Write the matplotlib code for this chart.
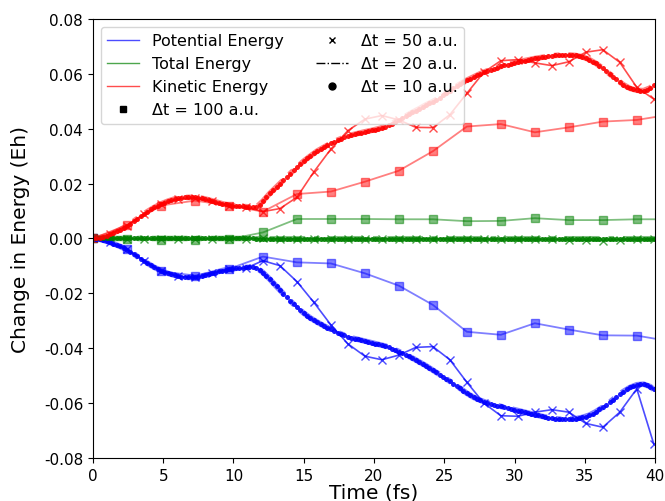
import numpy as np
import matplotlib
matplotlib.use("Agg")
import matplotlib.pyplot as plt
from matplotlib.lines import Line2D

# one atomic unit of time in femtoseconds
AU_FS = 0.02418884

# Energy changes in milli-Hartree, one value per time step
# ---- dt = 100 a.u. ----
kin_dt100 = [0.0, 4.9, 12.0, 13.8, 12.0, 9.8, 16.2, 17.1, 20.7, 24.7, 31.8, 40.8,
             41.7, 38.7, 40.5, 42.6, 43.2, 45.2]
pot_dt100 = [0.0, -4.0, -12.0, -13.5, -11.1, -6.6, -8.7, -9.1, -12.7, -17.2, -24.2,
             -34.0, -35.1, -30.9, -33.2, -35.3, -35.4, -37.5]
tot_dt100 = [0.0, -0.1, -0.5, -0.5, -0.3, 2.2, 7.1, 7.1, 7.1, 7.0, 7.0, 6.3,
             6.4, 7.4, 6.7, 6.7, 7.0, 7.0]

# ---- dt = 50 a.u. ----
kin_dt50 = [0.0, 1.5, 4.7, 9.0, 12.4, 14.4, 14.7, 13.6, 12.0, 11.4, 9.8, 10.9,
            15.0, 24.3, 32.6, 39.3, 43.5, 44.8, 43.2, 40.5, 40.4, 45.1, 52.9,
            60.6, 64.8, 65.2, 64.0, 63.0, 64.4, 67.9, 68.8, 64.2, 55.1, 50.8]
pot_dt50 = [0.0, -1.2, -4.0, -8.1, -11.7, -13.8, -14.2, -12.7, -11.3, -10.8, -8.1,
            -9.9, -15.7, -23.3, -31.5, -38.4, -42.9, -44.2, -42.5, -39.7, -39.4,
            -44.2, -52.4, -60.0, -64.6, -64.8, -63.3, -62.4, -63.3, -67.4, -68.8,
            -63.3, -54.8, -74.9]
tot_dt50 = [0.0, 0.0, -0.1, -0.1, -0.1, -0.1, -0.1, -0.1, -0.1, -0.1, 0.0, -0.1,
            -0.1, -0.1, -0.1, -0.1, -0.1, -0.1, -0.1, -0.1, -0.1, -0.1, -0.1,
            -0.2, -0.2, -0.2, -0.3, -0.3, -0.4, -0.6, -0.8, -0.4, -0.3, -0.3]

# ---- dt = 20 a.u. ----
kin_dt20 = [0.0, 0.3, 1.0, 2.0, 3.2, 4.6, 6.3, 8.1, 9.8, 11.3,
            12.6, 13.6, 14.4, 14.8, 15.0, 15.0, 14.7, 14.1, 13.4, 12.7,
            12.1, 11.8, 11.7, 11.5, 11.3, 13.6, 16.4, 18.8, 21.2, 23.6,
            26.0, 28.2, 30.1, 31.9, 33.3, 34.7, 35.9, 36.9, 37.7, 38.3,
            38.9, 39.4, 40.0, 40.8, 41.9, 43.3, 44.6, 46.0, 47.3, 48.7,
            49.9, 51.3, 53.0, 54.7, 56.3, 57.7, 58.9, 60.1, 61.1, 61.9,
            62.7, 63.4, 64.0, 64.6, 65.1, 65.6, 66.0, 66.4, 66.7, 66.9,
            66.9, 66.7, 66.2, 65.2, 63.8, 62.0, 60.0, 58.0, 56.1, 54.7,
            54.0, 53.9, 54.9, 57.3]
pot_dt20 = [0.0, -0.3, -1.0, -1.9, -2.9, -4.1, -5.6, -7.4, -9.0, -10.5,
            -11.7, -12.7, -13.4, -13.9, -14.2, -14.1, -13.7, -13.1, -12.4, -11.7,
            -11.2, -10.9, -10.6, -10.5, -10.6, -12.4, -14.8, -17.5, -20.1, -22.7,
            -25.1, -27.2, -29.0, -30.5, -31.9, -33.1, -34.3, -35.3, -36.2, -36.8,
            -37.4, -38.0, -38.6, -39.2, -40.1, -41.2, -42.4, -43.6, -45.0, -46.4,
            -48.0, -49.6, -51.2, -52.9, -54.6, -56.4, -57.9, -59.0, -59.9, -60.6,
            -61.2, -61.8, -62.4, -63.0, -63.6, -64.2, -64.8, -65.3, -65.7, -65.9,
            -65.9, -65.7, -65.2, -64.4, -63.1, -61.5, -59.7, -57.7, -55.8, -54.3,
            -53.3, -53.1, -54.0, -56.2]
tot_dt20 = [0.0, 0.0, 0.0, 0.0, 0.0, 0.0, 0.0, 0.0, 0.0, 0.0,
            0.0, 0.0, 0.0, 0.0, 0.0, 0.0, 0.0, 0.0, 0.0, 0.0,
            0.0, 0.0, 0.0, 0.0, -0.1, -0.1, -0.1, -0.1, -0.1, -0.1,
            -0.1, -0.1, -0.1, -0.1, -0.1, -0.1, -0.1, -0.1, -0.1, -0.1,
            -0.1, -0.1, -0.1, -0.1, -0.1, -0.1, -0.1, -0.1, -0.1, -0.1,
            -0.1, -0.1, -0.1, -0.1, -0.1, -0.1, -0.1, -0.1, -0.1, -0.1,
            -0.1, -0.1, -0.1, -0.1, -0.1, -0.1, -0.1, -0.1, -0.1, -0.1,
            -0.1, -0.1, -0.1, -0.1, -0.1, -0.1, -0.1, -0.1, -0.1, -0.1,
            -0.1, -0.1, -0.1, -0.1]

# ---- dt = 10 a.u. ----
kin_dt10 = [0.0, 0.1, 0.3, 0.6, 1.0, 1.5, 2.0, 2.6, 3.2, 3.9,
            4.6, 5.4, 6.3, 7.2, 8.1, 9.0, 9.8, 10.6, 11.3, 12.0,
            12.6, 13.1, 13.6, 14.0, 14.4, 14.6, 14.8, 15.0, 15.0, 15.1,
            15.0, 14.9, 14.7, 14.4, 14.1, 13.8, 13.4, 13.0, 12.7, 12.4,
            12.1, 11.9, 11.8, 11.7, 11.7, 11.6, 11.5, 11.4, 11.3, 12.3,
            13.6, 15.0, 16.4, 17.6, 18.8, 20.0, 21.2, 22.4, 23.6, 24.8,
            26.0, 27.1, 28.2, 29.2, 30.1, 31.0, 31.9, 32.6, 33.3, 34.0,
            34.7, 35.3, 35.9, 36.4, 36.9, 37.3, 37.7, 38.0, 38.3, 38.6,
            38.9, 39.2, 39.4, 39.7, 40.0, 40.4, 40.8, 41.3, 41.9, 42.6,
            43.3, 44.0, 44.6, 45.3, 46.0, 46.6, 47.3, 48.0, 48.7, 49.3,
            49.9, 50.6, 51.3, 52.2, 53.0, 53.8, 54.7, 55.5, 56.3, 57.0,
            57.7, 58.3, 58.9, 59.5, 60.1, 60.6, 61.1, 61.5, 61.9, 62.3,
            62.7, 63.1, 63.4, 63.7, 64.0, 64.3, 64.6, 64.8, 65.1, 65.3,
            65.6, 65.8, 66.0, 66.2, 66.4, 66.5, 66.7, 66.8, 66.9, 66.9,
            66.9, 66.9, 66.7, 66.5, 66.2, 65.8, 65.2, 64.5, 63.8, 62.9,
            62.0, 61.0, 60.0, 59.0, 58.0, 57.0, 56.1, 55.3, 54.7, 54.3,
            54.0, 53.8, 53.9, 54.2, 54.9, 56.0, 57.3]
pot_dt10 = [0.0, -0.1, -0.3, -0.6, -1.0, -1.4, -1.9, -2.4, -2.9, -3.5,
            -4.1, -4.8, -5.6, -6.5, -7.4, -8.2, -9.0, -9.8, -10.5, -11.1,
            -11.7, -12.2, -12.7, -13.1, -13.4, -13.7, -13.9, -14.1, -14.2, -14.2,
            -14.1, -14.0, -13.7, -13.4, -13.1, -12.7, -12.4, -12.0, -11.7, -11.4,
            -11.2, -11.0, -10.9, -10.7, -10.6, -10.5, -10.5, -10.5, -10.6, -11.4,
            -12.4, -13.6, -14.8, -16.1, -17.5, -18.8, -20.1, -21.4, -22.7, -23.9,
            -25.1, -26.2, -27.2, -28.1, -29.0, -29.8, -30.5, -31.2, -31.9, -32.5,
            -33.1, -33.7, -34.3, -34.8, -35.3, -35.8, -36.2, -36.5, -36.8, -37.1,
            -37.4, -37.7, -38.0, -38.3, -38.6, -38.9, -39.2, -39.6, -40.1, -40.6,
            -41.2, -41.8, -42.4, -43.0, -43.6, -44.3, -45.0, -45.7, -46.4, -47.2,
            -48.0, -48.8, -49.6, -50.4, -51.2, -52.0, -52.9, -53.7, -54.6, -55.5,
            -56.4, -57.2, -57.9, -58.5, -59.0, -59.5, -59.9, -60.3, -60.6, -60.9,
            -61.2, -61.5, -61.8, -62.1, -62.4, -62.7, -63.0, -63.3, -63.6, -63.9,
            -64.2, -64.5, -64.8, -65.0, -65.3, -65.5, -65.7, -65.8, -65.9, -65.9,
            -65.9, -65.9, -65.7, -65.5, -65.2, -64.9, -64.4, -63.8, -63.1, -62.3,
            -61.5, -60.6, -59.7, -58.7, -57.7, -56.7, -55.8, -55.0, -54.3, -53.7,
            -53.3, -53.1, -53.1, -53.4, -54.0, -55.0, -56.2]
tot_dt10 = [0.0, 0.0, 0.0, 0.0, 0.0, 0.0, 0.0, 0.0, 0.0, 0.0,
            0.0, 0.0, 0.0, 0.0, 0.0, 0.0, 0.0, 0.0, 0.0, 0.0,
            0.0, 0.0, 0.0, 0.0, 0.0, 0.0, 0.0, 0.0, 0.0, 0.0,
            0.0, 0.0, 0.0, 0.0, 0.0, 0.0, 0.0, 0.0, 0.0, 0.0,
            0.0, 0.0, 0.0, 0.0, 0.0, 0.0, 0.0, 0.0, -0.1, -0.1,
            -0.1, -0.1, -0.1, -0.1, -0.1, -0.1, -0.1, -0.1, -0.1, -0.1,
            -0.1, -0.1, -0.1, -0.1, -0.1, -0.1, -0.1, -0.1, -0.1, -0.1,
            -0.1, -0.1, -0.1, -0.1, -0.1, -0.1, -0.1, -0.1, -0.1, -0.1,
            -0.1, -0.1, -0.1, -0.1, -0.1, -0.1, -0.1, -0.1, -0.1, -0.1,
            -0.1, -0.1, -0.1, -0.1, -0.1, -0.1, -0.1, -0.1, -0.1, -0.1,
            -0.1, -0.1, -0.1, -0.1, -0.1, -0.1, -0.1, -0.1, -0.1, -0.1,
            -0.1, -0.1, -0.1, -0.1, -0.1, -0.1, -0.1, -0.1, -0.1, -0.1,
            -0.1, -0.1, -0.1, -0.1, -0.1, -0.1, -0.1, -0.1, -0.1, -0.1,
            -0.1, -0.1, -0.1, -0.1, -0.1, -0.1, -0.1, -0.1, -0.1, -0.1,
            -0.1, -0.1, -0.1, -0.1, -0.1, -0.1, -0.1, -0.1, -0.1, -0.1,
            -0.1, -0.1, -0.1, -0.1, -0.1, -0.1, -0.1, -0.1, -0.1, -0.1,
            -0.1, -0.1, -0.1, -0.1, -0.1, -0.1, -0.1]

legend_energy = ["Potential Energy", "Total Energy", "Kinetic Energy"]
energy_colors = ["blue", "green", "red"]
timesteps_au = [100, 50, 20, 10]

runs = {
    100: (pot_dt100, tot_dt100, kin_dt100),
    50: (pot_dt50, tot_dt50, kin_dt50),
    20: (pot_dt20, tot_dt20, kin_dt20),
    10: (pot_dt10, tot_dt10, kin_dt10),
}

styles = {
    100: dict(ls="-", lw=1.3, marker="s", ms=6, alpha=0.5),
    50: dict(ls="-", lw=1.2, marker="x", ms=5.5, mew=1.0, alpha=0.7),
    20: dict(ls="-.", lw=4.0, alpha=0.5),
    10: dict(ls="none", marker="o", ms=3.6, alpha=0.9, mew=0),
}

fig = plt.figure(figsize=(6.65, 5.02), dpi=100)
ax = fig.add_axes([0.1398, 0.0857, 0.8452, 0.8745])

for dt in timesteps_au:
    series = runs[dt]
    for values, color in zip(series, energy_colors):
        t = np.arange(len(values)) * dt * AU_FS
        ax.plot(t, np.asarray(values) / 1000.0, color=color, **styles[dt])

ax.set_xlim(0, 40)
ax.set_ylim(-0.08, 0.08)
ax.set_xticks(np.arange(0, 41, 5))
ax.set_yticks(np.arange(-0.08, 0.081, 0.02))
ax.yaxis.set_major_formatter(matplotlib.ticker.FormatStrFormatter("%.2f"))
ax.tick_params(labelsize=11)
ax.set_xlabel("Time (fs)", fontsize=14.5, labelpad=0)
ax.set_ylabel("Change in Energy (Eh)", fontsize=14.5, labelpad=10)

handles = [Line2D([], [], color=c, lw=1, alpha=0.7, label=lab)
           for c, lab in zip(energy_colors, legend_energy)]
handles += [
    Line2D([], [], color="k", ls="none", marker="s", ms=5, label="Δt = 100 a.u."),
    Line2D([], [], color="k", ls="none", marker="x", ms=5, label="Δt = 50 a.u."),
    Line2D([], [], color="k", ls="-.", lw=1, label="Δt = 20 a.u."),
    Line2D([], [], color="k", ls="none", marker="o", ms=5, label="Δt = 10 a.u."),
]
ax.legend(handles=handles, ncol=2, loc="upper left", fontsize=11.5)

fig.savefig("out.png", dpi=100)
